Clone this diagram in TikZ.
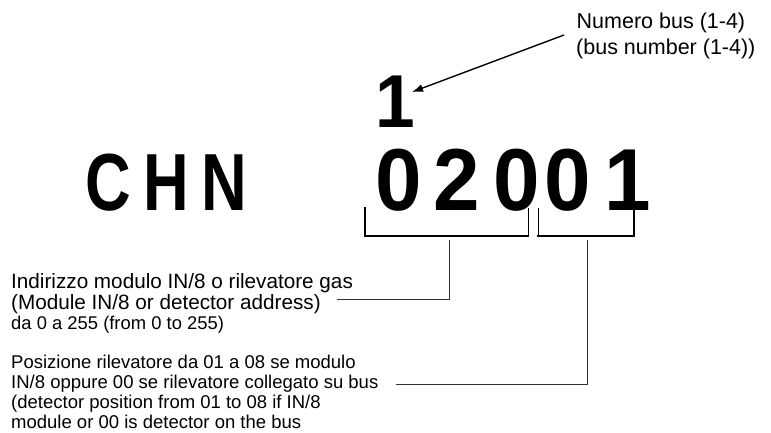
\documentclass[tikz,border=0pt]{standalone}
\usepackage{fontspec}
\setmainfont{Liberation Sans}
\newfontfamily\condfont[FakeStretch=0.78]{Liberation Sans Bold}
\newfontfamily\digitfont[FakeStretch=0.95]{Liberation Sans Bold}
\usetikzlibrary{arrows.meta}
\begin{document}
\begin{tikzpicture}[x=1pt,y=-1pt,
  glyph/.style={inner sep=0pt,anchor=base},
  letters/.style={glyph,font=\condfont\fontsize{81}{81}\selectfont},
  digits/.style={glyph,font=\digitfont\fontsize{88}{88}\selectfont},
  txt/.style={inner sep=0pt,anchor=base west},
  lbl/.style={txt,font=\fontsize{21.5}{24}\selectfont},
  notea/.style={txt,font=\fontsize{20.7}{22}\selectfont},
  notesmall/.style={txt,font=\fontsize{18.4}{20}\selectfont},
  noteb/.style={txt,font=\fontsize{18.5}{20}\selectfont},
  brk/.style={line width=2pt,line cap=rect},
  brkthin/.style={line width=1pt},
  conn/.style={line width=0.9pt,black!80},
  pointer/.style={line width=1.4pt,-{Latex[length=11pt,width=8pt]}}
]
\useasboundingbox (0,0) rectangle (771,432);

% CHN
\node[letters] (c) at (108,210) {C};
\node[letters] (h) at (166,210) {H};
\node[letters] (n) at (224,210) {N};

% 02001
\node[digits] (d1) at (399,210) {0};
\node[digits] (d2) at (457,210) {2};
\node[digits] (d3) at (517,210) {0};
\node[digits] (d4) at (568,210) {0};
\node[digits] (d5) at (628,210) {1};

% bus number
\node[glyph,font=\digitfont\fontsize{75}{75}\selectfont] (bus) at (395,127) {1};
\node[lbl] (lbla) at (576.5,28) {Numero bus (1-4)};
\node[lbl] (lblb) at (576,54) {(bus number (1-4))};
\coordinate (arrtail) at (564,35);
\coordinate (arrtip) at (412,92);
\draw[pointer] (arrtail) -- (arrtip);

% brackets
\coordinate (b1a) at (365,208);
\coordinate (b1b) at (365,236);
\coordinate (b1c) at (528,236);
\coordinate (b1d) at (528,208);
\coordinate (b2a) at (538,208);
\coordinate (b2b) at (538,236);
\coordinate (b2c) at (634,236);
\coordinate (b2d) at (634,208);
\draw[brk] (b1a) -- (b1b) -- (b1c);
\draw[brkthin] (b1c) -- (b1d);
\draw[brkthin] (b2a) -- (b2b);
\draw[brk] (b2b) -- (b2c) -- (b2d);

% notes
\node[notea] (a1) at (11,288) {Indirizzo modulo IN/8 o rilevatore gas};
\node[notea] (a2) at (11,309) {(Module IN/8 or detector address)};
\node[notesmall] (a3) at (11,329) {da 0 a 255 (from 0 to 255)};

\node[noteb] (p1) at (11,368) {Posizione rilevatore da 01 a 08 se modulo};
\node[noteb] (p2) at (11,388) {IN/8 oppure 00 se rilevatore collegato su bus};
\node[noteb] (p3) at (11,408) {(detector position from 01 to 08 if IN/8};
\node[noteb] (p4) at (11,428) {module or 00 is detector on the bus};

% leaders
\coordinate (s1top) at (449,240);
\coordinate (s1end) at (337,299);
\coordinate (s2top) at (587,240);
\coordinate (s2end) at (396,384);
\draw[conn] (s1top) |- (s1end);
\draw[conn] (s2top) |- (s2end);
\end{tikzpicture}
\end{document}
